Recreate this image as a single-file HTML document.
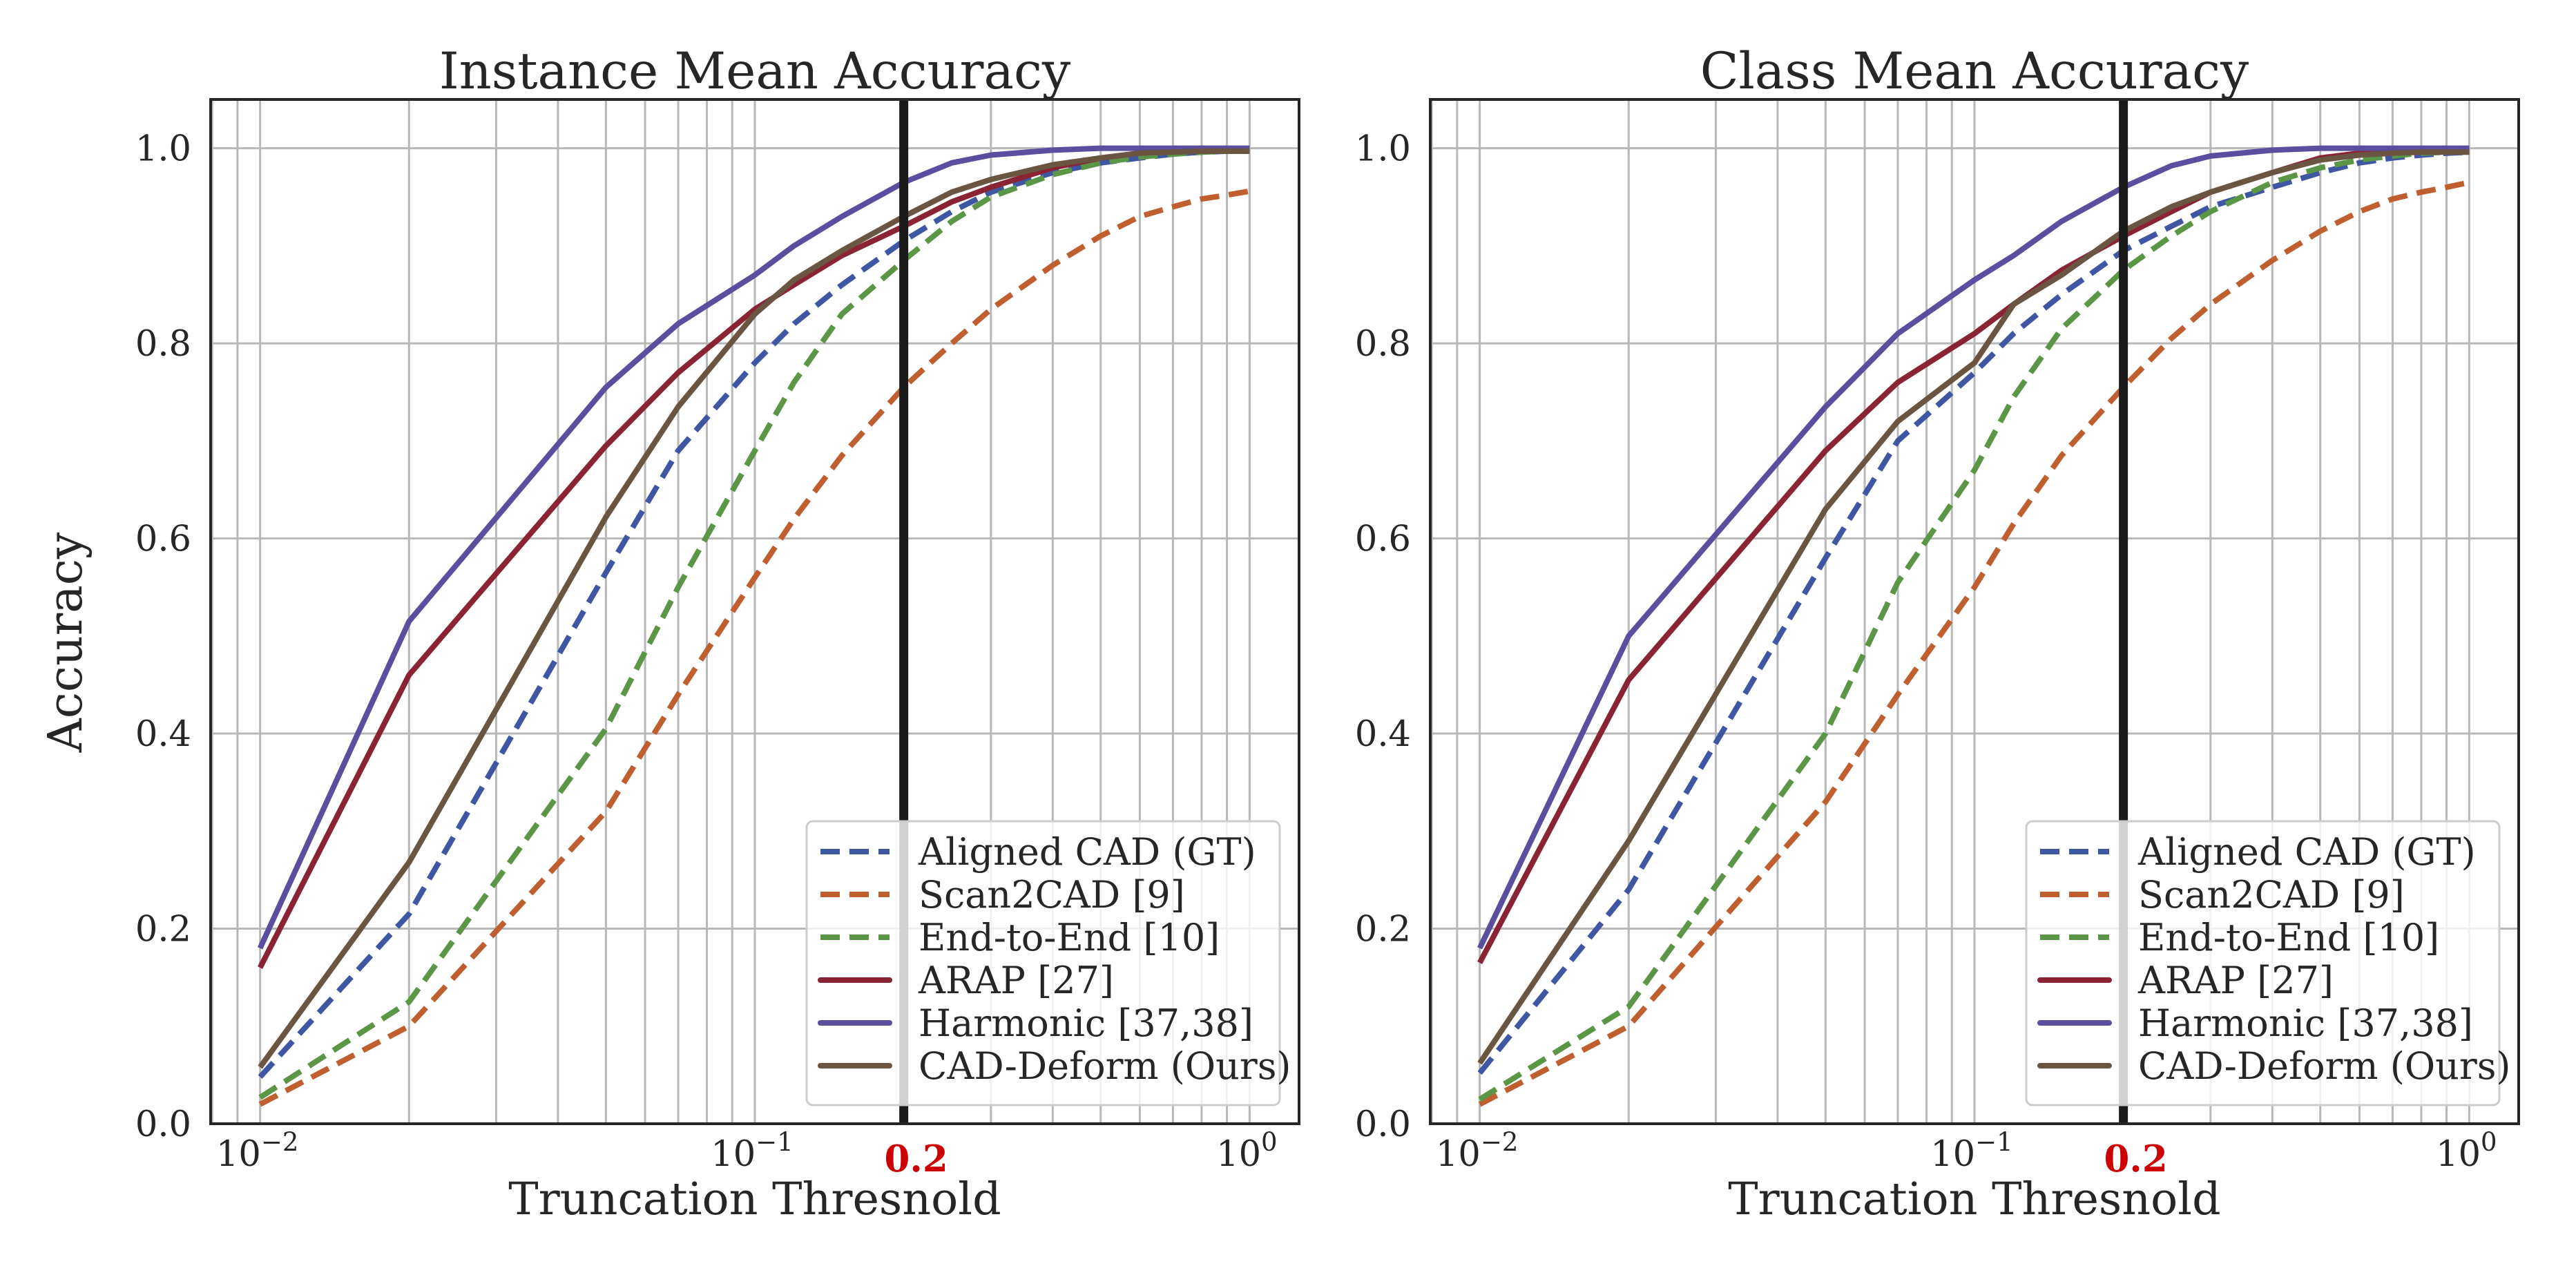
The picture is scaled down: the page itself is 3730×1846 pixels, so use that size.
<!DOCTYPE html>
<html><head><meta charset="utf-8">
<style>
html,body{margin:0;padding:0;background:#fff;}
svg{display:block;font-family:"DejaVu Serif","Liberation Serif",serif;}
</style></head>
<body>
<svg id="fig" width="3730" height="1846" viewBox="0 0 3730 1846" xmlns="http://www.w3.org/2000/svg"></svg>
<script>
const xs = [0.01,0.02,0.05,0.07,0.1,0.12,0.15,0.2,0.25,0.3,0.4,0.5,0.6,0.7,0.8,0.9,1.0];
const seriesNames = ["Aligned CAD (GT)","Scan2CAD [9]","End-to-End [10]","ARAP [27]","Harmonic [37,38]","CAD-Deform (Ours)"];
const yTickLabels = ["0.0","0.2","0.4","0.6","0.8","1.0"];
const yTickValues = [0,0.2,0.4,0.6,0.8,1.0];
const highlightX = 0.2;
// Instance mean accuracy
const instAligned = [0.048,0.215,0.565,0.69,0.78,0.82,0.86,0.905,0.935,0.955,0.975,0.985,0.99,0.994,0.996,0.997,0.997];
const instScan2CAD = [0.02,0.10,0.32,0.44,0.56,0.62,0.685,0.755,0.80,0.835,0.88,0.91,0.93,0.94,0.948,0.952,0.956];
const instE2E = [0.027,0.125,0.405,0.55,0.69,0.76,0.83,0.885,0.925,0.95,0.973,0.985,0.991,0.994,0.996,0.997,0.997];
const instARAP = [0.16,0.46,0.695,0.77,0.835,0.86,0.89,0.92,0.945,0.96,0.98,0.99,0.995,0.997,0.998,0.998,0.998];
const instHarmonic = [0.18,0.515,0.755,0.82,0.87,0.90,0.93,0.965,0.985,0.993,0.998,1.0,1.0,1.0,1.0,1.0,1.0];
const instDeform = [0.058,0.268,0.622,0.735,0.83,0.865,0.895,0.93,0.955,0.968,0.983,0.99,0.995,0.996,0.997,0.997,0.997];
// Class mean accuracy
const clsAligned = [0.052,0.24,0.58,0.70,0.77,0.81,0.85,0.895,0.92,0.94,0.96,0.975,0.985,0.99,0.993,0.995,0.996];
const clsScan2CAD = [0.02,0.10,0.33,0.44,0.55,0.615,0.685,0.755,0.805,0.84,0.885,0.915,0.935,0.948,0.955,0.96,0.965];
const clsE2E = [0.025,0.12,0.40,0.555,0.67,0.745,0.815,0.875,0.91,0.935,0.965,0.98,0.988,0.992,0.995,0.996,0.997];
const clsARAP = [0.165,0.455,0.69,0.76,0.81,0.84,0.875,0.91,0.935,0.955,0.975,0.99,0.995,0.997,0.998,0.998,0.998];
const clsHarmonic = [0.18,0.50,0.735,0.81,0.865,0.89,0.925,0.96,0.982,0.992,0.998,1.0,1.0,1.0,1.0,1.0,1.0];
const clsDeform = [0.062,0.29,0.63,0.72,0.78,0.84,0.87,0.915,0.94,0.955,0.975,0.988,0.993,0.995,0.996,0.996,0.996];

const styles = [
  {c:"#3f56a3",dash:"28 14"},
  {c:"#bf5f2f",dash:"28 14"},
  {c:"#5b9646",dash:"28 14"},
  {c:"#8a2434",dash:null},
  {c:"#5a4f9f",dash:null},
  {c:"#6a5542",dash:null}
];
const NS="http://www.w3.org/2000/svg";
const svg=document.getElementById('fig');
function mk(tag,attrs,parent){const e=document.createElementNS(NS,tag);for(const k in attrs)e.setAttribute(k,attrs[k]);(parent||svg).appendChild(e);return e;}

function panel(cfg){
  const L=cfg.left,R=cfg.right,T=144,B=1627;
  const xmin=-2.1,xmax=0.1,ymin=0,ymax=1.05;
  const X=v=>L+(Math.log10(v)-xmin)/(xmax-xmin)*(R-L);
  const Y=v=>B-(v-ymin)/(ymax-ymin)*(B-T);
  const g=mk('g',{});
  
  
  const grid=mk('g',{stroke:"#b8b8b8","stroke-width":3},g);
  
  
  for(let d=-3;d<=0;d++){for(let m=1;m<=9;m++){const v=m*Math.pow(10,d);const lv=Math.log10(v);if(lv<xmin||lv>xmax)continue;const x=X(v);mk('line',{x1:x,x2:x,y1:T,y2:B},grid);}}
  yTickValues.forEach(v=>{const y=Y(v);mk('line',{x1:L,x2:R,y1:y,y2:y},grid);});
  cfg.data.forEach((arr,i)=>{
    const pts=arr.map((v,j)=>X(xs[j]).toFixed(1)+","+Y(v).toFixed(1)).join(" ");
    const p=mk('polyline',{points:pts,fill:"none",stroke:styles[i].c,"stroke-width":8,"stroke-linejoin":"round"},g);
    if(styles[i].dash)p.setAttribute('stroke-dasharray',styles[i].dash);
    
    
  });
  const hx=X(highlightX);
  const hl=mk('line',{x1:hx,x2:hx,y1:T,y2:B,stroke:"#1a1a1a","stroke-width":13},g);
  
  
  const sp=mk('rect',{x:L,y:T,width:R-L,height:B-T,fill:"none",stroke:"#262626","stroke-width":4},g);
  
  
  yTickLabels.forEach((t,i)=>{const tx=mk('text',{x:L-28,y:Y(yTickValues[i])+18,"font-size":51,"text-anchor":"end",fill:"#262626"},g);tx.textContent=t;
    
    });
  [-2,-1,0].forEach(e=>{const x=X(Math.pow(10,e));const tx=mk('text',{x:x-4,y:1688,"font-size":51,"text-anchor":"middle",fill:"#262626"},g);
    tx.textContent="10";const s=mk('tspan',{dy:-22,"font-size":37},tx);s.textContent=(e<0?"\u2212"+(-e):String(e));
    
    });
  const hlab=mk('text',{x:hx+18,y:1696,"font-size":53,"font-weight":"bold","text-anchor":"middle",fill:"#cc0000"},g);
  hlab.textContent="0.2";
  
  
  const xl=mk('text',{x:(L+R)/2,y:1758,"font-size":65,"text-anchor":"middle",fill:"#262626"},g);
  xl.textContent="Truncation Thresnold";
  
  
  const tt=mk('text',{x:(L+R)/2,y:128,"font-size":73,"text-anchor":"middle",fill:"#262626"},g);
  tt.textContent=cfg.title;
  
  
  const lg=mk('g',{},g);
  
  
  const lx=R-cfg.legRight-685,ly=1189;
  mk('rect',{x:lx,y:ly,width:685,height:411,rx:9,fill:"#ffffff","fill-opacity":0.8,stroke:"#cccccc","stroke-width":3},lg);
  seriesNames.forEach((n,i)=>{
    const yy=ly+44+i*62;
    const ent=mk('g',{},lg);
    
    
    const ln=mk('line',{x1:lx+20,x2:lx+120,y1:yy,y2:yy,stroke:styles[i].c,"stroke-width":8,"stroke-linecap":styles[i].dash?"butt":"round"},ent);
    if(styles[i].dash)ln.setAttribute('stroke-dasharray',styles[i].dash);
    const t=mk('text',{x:lx+162,y:yy+19,"font-size":54,fill:"#262626"},ent);t.textContent=n;
  });
}
panel({id:"instance",left:305,right:1881,title:"Instance Mean Accuracy",legRight:28,
  data:[instAligned,instScan2CAD,instE2E,instARAP,instHarmonic,instDeform]});
panel({id:"class",left:2071,right:3647,title:"Class Mean Accuracy",legRight:28,
  data:[clsAligned,clsScan2CAD,clsE2E,clsARAP,clsHarmonic,clsDeform]});
const yl=mk('text',{x:118,y:930,"font-size":68,"text-anchor":"middle",fill:"#262626",transform:"rotate(-90 118 930)"});
yl.textContent="Accuracy";


</script>
</body></html>
